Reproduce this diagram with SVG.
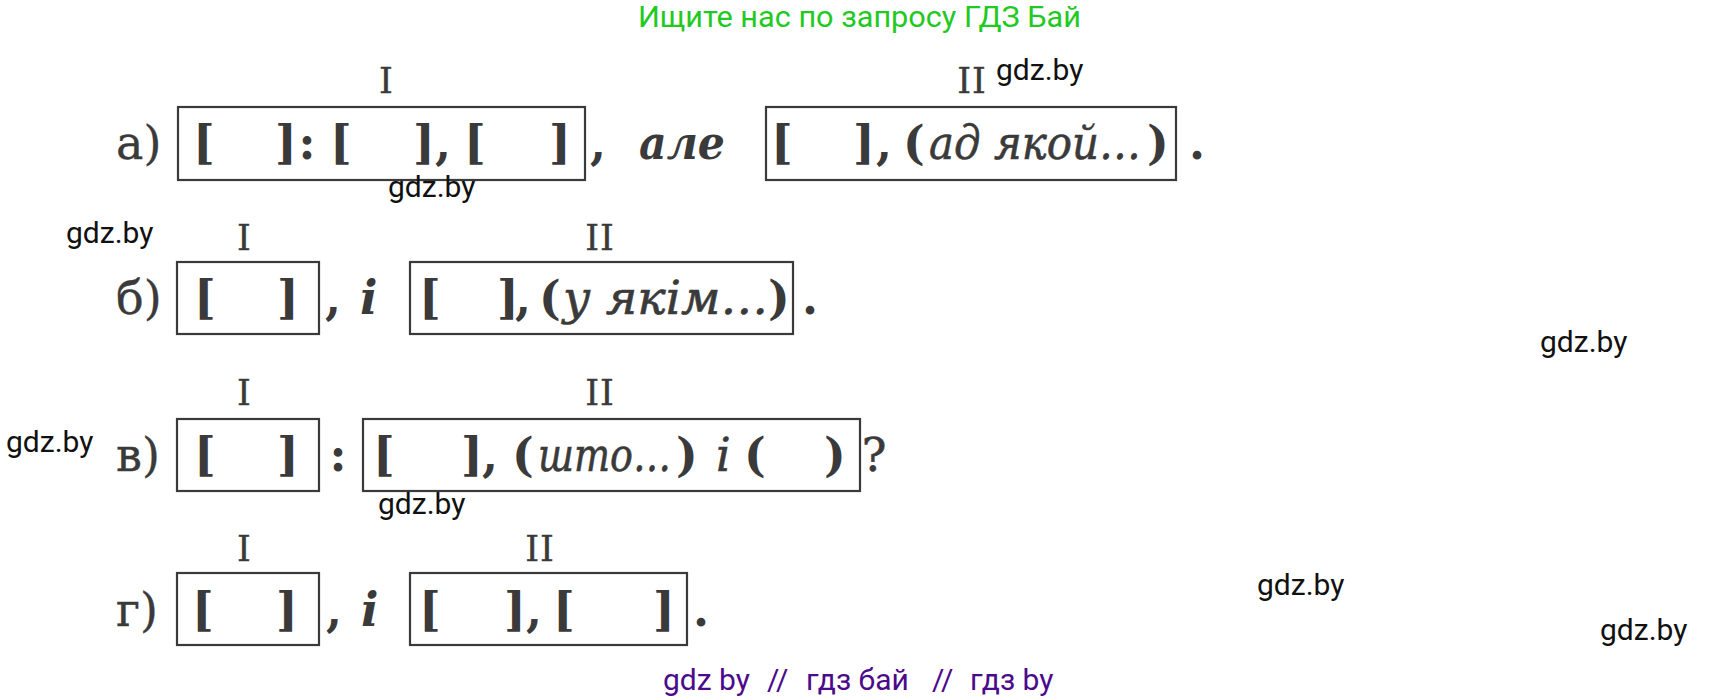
<svg xmlns="http://www.w3.org/2000/svg" width="1716" height="700" viewBox="0 0 1716 700">
<style>
.bg{fill:#ffffff}
.box{fill:none;stroke:#3a3a3a;stroke-width:2.2}
.t{font-family:"DejaVu Serif","Liberation Serif",serif;font-size:46px;fill:#3a3a3a;text-anchor:middle}
.b{font-weight:bold}
.it{font-style:italic;text-anchor:start}
.hv{stroke:#3a3a3a;stroke-width:0.6}
.lt{stroke:#3a3a3a;stroke-width:0.35}
.lead{text-anchor:start}
.lab{font-family:"DejaVu Serif","Liberation Serif",serif;font-size:35px;fill:#3a3a3a;text-anchor:middle;stroke:#3a3a3a;stroke-width:0.4}
.wm{font-family:Roboto,"Liberation Sans",sans-serif;font-size:30px;fill:#111111}
.green{font-family:Roboto,"Liberation Sans",sans-serif;font-size:30px;fill:#22c922}
.purple{font-family:Roboto,"Liberation Sans",sans-serif;font-size:30px;fill:#4b0a8c}
</style>
<rect class="bg" x="0" y="0" width="1716" height="700"/>
<text class="green" x="638" y="27" textLength="443" lengthAdjust="spacingAndGlyphs">Ищите нас по запросу ГДЗ Бай</text>

<g id="row-a">
  <text class="t lead lt" x="116" y="159">а)</text>
  <g id="a-I">
    <text class="lab" x="386" y="93">I</text>
    <rect class="box" x="178" y="107" width="407" height="73"/>
    <text class="t b" x="204" y="159">[</text>
    <text class="t b" x="286" y="159">]</text>
    <text class="t b" x="307" y="159">:</text>
    <text class="t b" x="341" y="159">[</text>
    <text class="t b" x="424" y="159">]</text>
    <text class="t b" x="443" y="159">,</text>
    <text class="t b" x="475" y="159">[</text>
    <text class="t b" x="560" y="159">]</text>
  </g>
  <text class="t b" x="598" y="159">,</text>
  <text class="t b it" x="639" y="159" textLength="86" lengthAdjust="spacingAndGlyphs">але</text>
  <g id="a-II">
    <text class="lab" x="972" y="93" letter-spacing="1">II</text>
    <rect class="box" x="766" y="107" width="410" height="73"/>
    <text class="t b" x="782" y="159">[</text>
    <text class="t b" x="864" y="159">]</text>
    <text class="t b" x="884" y="159">,</text>
    <text class="t b" x="914" y="159">(</text>
    <text class="t it hv" x="929" y="159" textLength="212" lengthAdjust="spacingAndGlyphs">ад якой…</text>
    <text class="t b" x="1158" y="159">)</text>
  </g>
  <text class="t b" x="1197" y="159">.</text>
</g>

<g id="row-b">
  <text class="t lead lt" x="116" y="314">б)</text>
  <g id="b-I">
    <text class="lab" x="244" y="250">I</text>
    <rect class="box" x="177" y="262" width="142" height="72"/>
    <text class="t b" x="205" y="314">[</text>
    <text class="t b" x="288" y="314">]</text>
  </g>
  <text class="t b" x="333" y="314">,</text>
  <text class="t b it" x="360" y="314">i</text>
  <g id="b-II">
    <text class="lab" x="600" y="250" letter-spacing="1">II</text>
    <rect class="box" x="410" y="262" width="383" height="72"/>
    <text class="t b" x="430" y="314">[</text>
    <text class="t b" x="508" y="314">]</text>
    <text class="t b" x="523" y="314">,</text>
    <text class="t b" x="550" y="314">(</text>
    <text class="t it hv" x="563" y="314" textLength="205" lengthAdjust="spacingAndGlyphs">у якім…</text>
    <text class="t b" x="779" y="314">)</text>
  </g>
  <text class="t b" x="810" y="314">.</text>
</g>

<g id="row-v">
  <text class="t lead lt" x="116" y="471">в)</text>
  <g id="v-I">
    <text class="lab" x="244" y="405">I</text>
    <rect class="box" x="177" y="419" width="142" height="72"/>
    <text class="t b" x="205" y="471">[</text>
    <text class="t b" x="288" y="471">]</text>
  </g>
  <text class="t b" x="338" y="471">:</text>
  <g id="v-II">
    <text class="lab" x="600" y="405" letter-spacing="1">II</text>
    <rect class="box" x="363" y="419" width="497" height="72"/>
    <text class="t b" x="384" y="471">[</text>
    <text class="t b" x="472" y="471">]</text>
    <text class="t b" x="490" y="471">,</text>
    <text class="t b" x="523" y="471">(</text>
    <text class="t it hv" x="538" y="471" textLength="133" lengthAdjust="spacingAndGlyphs">што…</text>
    <text class="t b" x="687" y="471">)</text>
    <text class="t it hv" x="716" y="471">i</text>
    <text class="t b" x="755" y="471">(</text>
    <text class="t b" x="835" y="471">)</text>
  </g>
  <text class="t hv" x="874" y="471">?</text>
</g>

<g id="row-g">
  <text class="t lead lt" x="116" y="626">г)</text>
  <g id="g-I">
    <text class="lab" x="244" y="561">I</text>
    <rect class="box" x="177" y="573" width="142" height="72"/>
    <text class="t b" x="203" y="626">[</text>
    <text class="t b" x="287" y="626">]</text>
  </g>
  <text class="t b" x="334" y="626">,</text>
  <text class="t b it" x="361" y="626">i</text>
  <g id="g-II">
    <text class="lab" x="540" y="561" letter-spacing="1">II</text>
    <rect class="box" x="410" y="573" width="277" height="72"/>
    <text class="t b" x="430" y="626">[</text>
    <text class="t b" x="515" y="626">]</text>
    <text class="t b" x="534" y="626">,</text>
    <text class="t b" x="564" y="626">[</text>
    <text class="t b" x="664" y="626">]</text>
  </g>
  <text class="t b" x="701" y="626">.</text>
</g>

<g id="connectors"></g>

<g id="watermarks">
  <text class="wm" x="996" y="80">gdz.by</text>
  <text class="wm" x="388" y="197">gdz.by</text>
  <text class="wm" x="66" y="243">gdz.by</text>
  <text class="wm" x="1540" y="352">gdz.by</text>
  <text class="wm" x="6" y="452">gdz.by</text>
  <text class="wm" x="378" y="514">gdz.by</text>
  <text class="wm" x="1257" y="595">gdz.by</text>
  <text class="wm" x="1600" y="640">gdz.by</text>
</g>
<text class="purple" y="690"><tspan x="663">gdz by</tspan><tspan x="767">//</tspan><tspan x="806">гдз бай</tspan><tspan x="932">//</tspan><tspan x="970">гдз by</tspan></text>
</svg>
